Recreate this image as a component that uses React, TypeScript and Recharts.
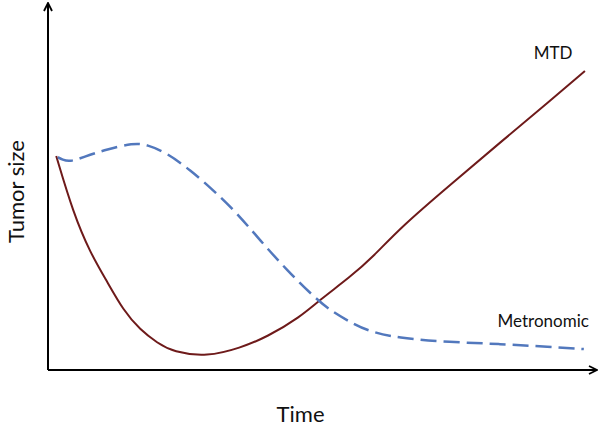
import React from "react";
import { LineChart, Line, XAxis, YAxis, ReferenceDot } from "recharts";

// Time (0-100) and tumor size (0-100)
const mtdTime = [1.5, 4.6, 7.7, 10.8, 13.7, 16.8, 19.9, 22.8, 29.0, 35.0, 39.9, 45.9, 49.5, 55.0, 59.2, 64.1, 73.2, 82.3, 91.4, 97.8];
const mtdSize = [58.3, 42.8, 31.9, 24.0, 16.3, 10.9, 7.4, 4.9, 3.6, 6.0, 9.0, 14.4, 19.1, 25.3, 30.8, 38.7, 50.4, 61.9, 73.3, 81.5];

const metTime = [1.8, 2.6, 4.0, 6.4, 10.8, 15.5, 18.0, 21.7, 25.9, 30.1, 34.4, 38.6, 43.5, 49.0, 51.9, 55.0, 58.1, 63.6, 73.2, 82.3, 91.4, 97.6];
const metSize = [58.0, 57.3, 56.7, 58.0, 60.2, 61.8, 61.5, 59.1, 54.5, 49.0, 42.8, 35.4, 27.2, 19.1, 15.8, 13.1, 10.7, 8.7, 7.6, 7.1, 6.3, 5.7];

const seriesLabels = ["MTD", "Metronomic"];
const labelTime = [92.0, 90.2];
const labelSize = [86.4, 13.4];

const xTitle = "Time";
const yTitle = "Tumor size";

const mtdData = mtdTime.map((t, i) => ({ t, v: mtdSize[i] }));
const metData = metTime.map((t, i) => ({ t, v: metSize[i] }));

const FONT = "Lato, 'Open Sans', sans-serif";

const XTitle = (props: any) => {
  const vb = props.viewBox || {};
  return (
    <text x={vb.x + vb.width * 0.46} y={vb.y + 52} textAnchor="middle" fontSize={22} fontFamily={FONT} fill="#111">
      {xTitle}
    </text>
  );
};

const YTitle = (props: any) => {
  const vb = props.viewBox || {};
  const cx = vb.x + 15;
  const cy = vb.y + vb.height / 2 + 5;
  return (
    <text x={cx} y={cy} transform={`rotate(-90, ${cx}, ${cy})`} textAnchor="middle" dominantBaseline="central" fontSize={22} fontFamily={FONT} fill="#111">
      {yTitle}
    </text>
  );
};

export default function App() {
  return (
    <div style={{ position: "absolute", left: 0, top: 0, width: 600, height: 426, background: "#fff" }}>
      <LineChart width={600} height={426} margin={{ top: 3, right: 3, left: 0, bottom: 0 }}>
        <defs>
          <marker id="arrowHead" viewBox="0 0 10 10" refX="9" refY="5" markerWidth="10" markerHeight="10" markerUnits="userSpaceOnUse" orient="auto-start-reverse">
            <path d="M1,1 L9,5 L1,9" fill="none" stroke="#000" strokeWidth={1.8} />
          </marker>
        </defs>
        <XAxis
          type="number"
          dataKey="t"
          domain={[0, 100]}
          height={56}
          tick={false}
          tickLine={false}
          axisLine={{ stroke: "#000", strokeWidth: 2, markerEnd: "url(#arrowHead)" } as any}
          label={<XTitle />}
          allowDuplicatedCategory={false}
        />
        <YAxis
          type="number"
          dataKey="v"
          domain={[0, 100]}
          width={48}
          tick={false}
          tickLine={false}
          axisLine={{ stroke: "#000", strokeWidth: 2, markerStart: "url(#arrowHead)" } as any}
          label={<YTitle />}
        />
        <Line
          data={mtdData}
          dataKey="v"
          type="basis"
          stroke="#6e1a1a"
          strokeWidth={2}
          dot={false}
          isAnimationActive={false}
        />
        <Line
          data={metData}
          dataKey="v"
          type="basis"
          stroke="#5278bd"
          strokeWidth={2.5}
          strokeDasharray="16 7"
          dot={false}
          isAnimationActive={false}
        />
        {seriesLabels.map((s, i) => (
          <ReferenceDot
            key={s}
            x={labelTime[i]}
            y={labelSize[i]}
            r={0}
            fill="none"
            stroke="none"
            label={{ value: s, position: "center", fontSize: 17, fontFamily: FONT, fill: "#111" }}
          />
        ))}
      </LineChart>
    </div>
  );
}
